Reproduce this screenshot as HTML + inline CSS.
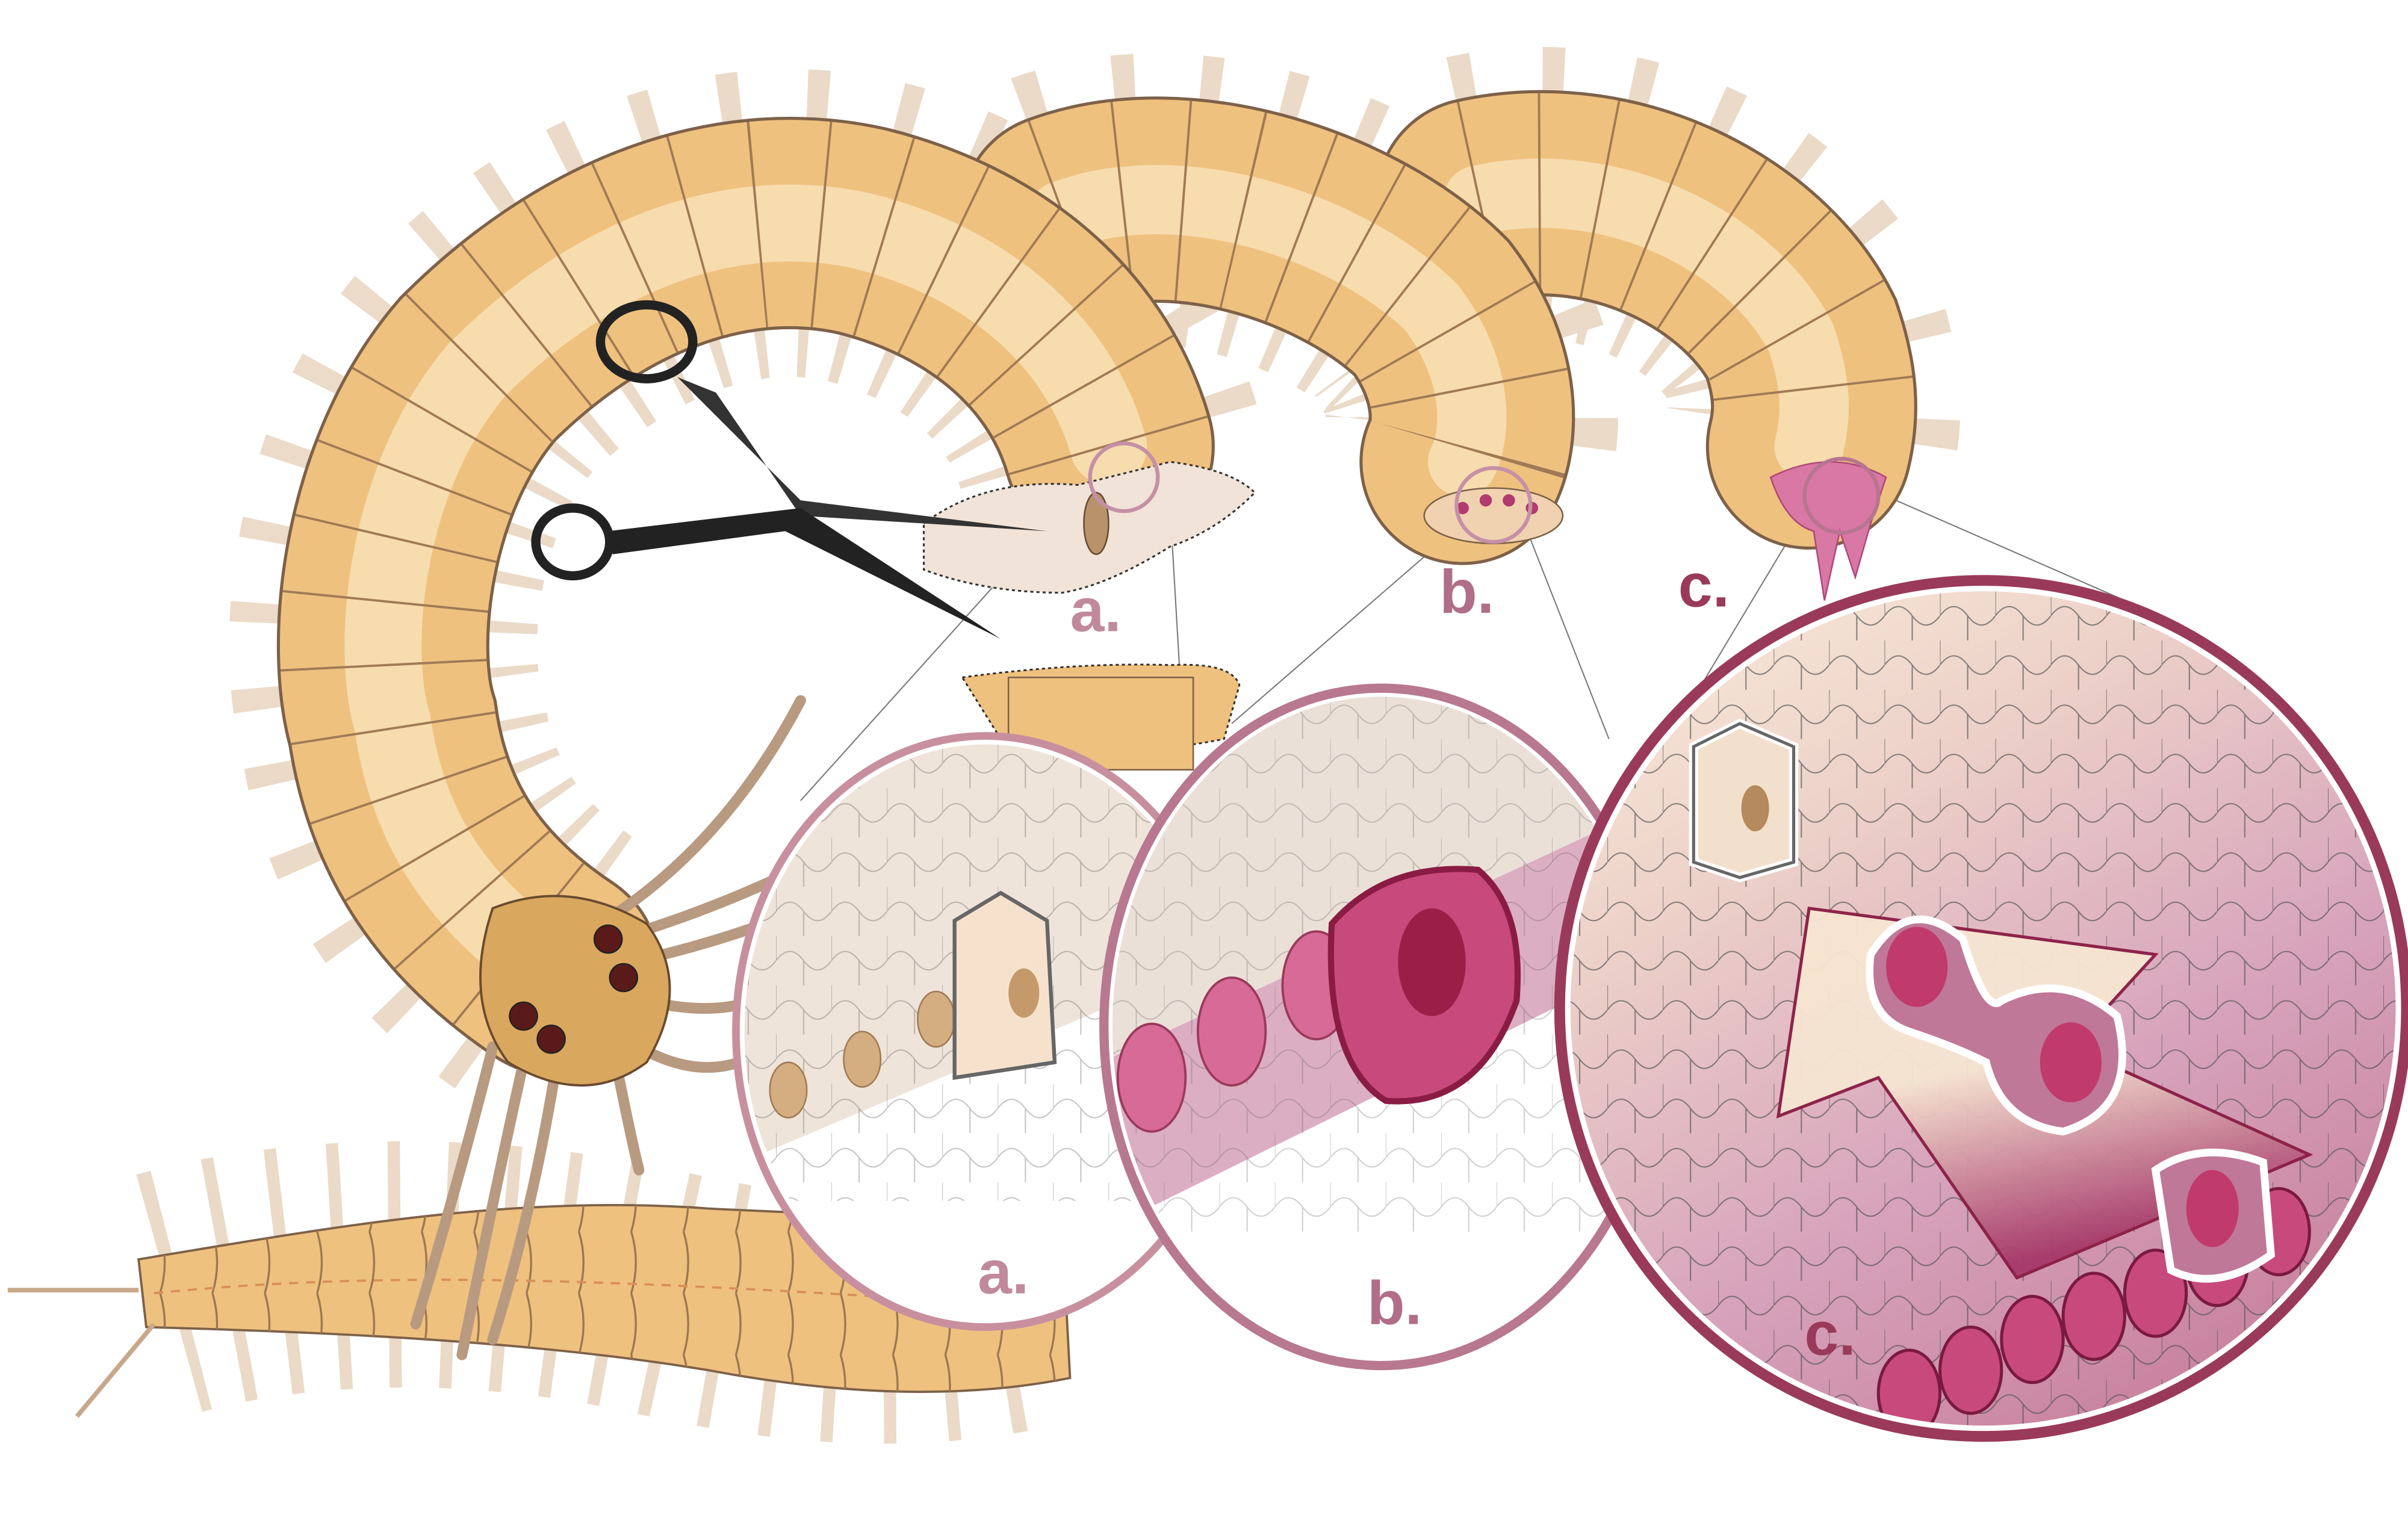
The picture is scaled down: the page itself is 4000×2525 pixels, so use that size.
<!DOCTYPE html>
<html><head><meta charset="utf-8"><style>html,body{margin:0;padding:0;background:#fff}svg{display:block}</style></head>
<body>
<svg width="4000" height="2525" viewBox="0 0 1564 987.3" preserveAspectRatio="none" xmlns="http://www.w3.org/2000/svg" font-family="Liberation Sans, sans-serif">
<defs>
<linearGradient id="gc" x1="0" y1="0" x2="0.6" y2="1"><stop offset="0" stop-color="#fbefdc"/><stop offset="0.35" stop-color="#ecd0c8"/><stop offset="0.7" stop-color="#d7a3bc"/><stop offset="1" stop-color="#c9849f"/></linearGradient>
<linearGradient id="ar" x1="0" y1="0" x2="0.3" y2="1"><stop offset="0.5" stop-color="#f7e6d2"/><stop offset="1" stop-color="#a6396a"/></linearGradient>
<pattern id="mesh" width="36" height="32" patternUnits="userSpaceOnUse"><path d="M0 16 Q9 4 18 16 Q27 28 36 16 M18 16 V32 M0 0 V16" fill="none" stroke="#555" stroke-width="0.8" opacity="0.7"/></pattern>
<pattern id="seg" width="34" height="40" patternUnits="userSpaceOnUse"><path d="M2 0 Q8 20 2 40" fill="none" stroke="#9a7652" stroke-width="1.3"/></pattern>
<clipPath id="ca"><ellipse cx="640" cy="670" rx="158" ry="188"/></clipPath>
<clipPath id="cb"><ellipse cx="897" cy="667" rx="176" ry="216"/></clipPath>
<clipPath id="cc"><ellipse cx="1288" cy="655" rx="268" ry="271"/></clipPath>
</defs>
<rect width="1564" height="987.3" fill="#fff"/>

<g stroke="#777" stroke-width="0.8" fill="none">
<line x1="700" y1="320" x2="520" y2="520"/><line x1="760" y1="330" x2="770" y2="500"/>
<line x1="950" y1="340" x2="800" y2="470"/><line x1="990" y1="340" x2="1045" y2="480"/>
<line x1="1180" y1="320" x2="1090" y2="470"/><line x1="1220" y1="320" x2="1380" y2="390"/>
</g>

<!-- bristles -->
<g fill="none" stroke-linecap="butt" opacity="0.8">
<path d="M720 290 C700 220 640 170 560 150 C470 130 380 170 310 240 C250 310 240 420 255 470 C265 540 300 590 360 630" stroke="#e6d2ba" stroke-width="200" stroke-dasharray="10 32"/>
<path d="M690 140 C770 110 880 150 930 200 C960 240 960 280 950 300" stroke="#e6d2ba" stroke-width="190" stroke-dasharray="10 32"/>
<path d="M960 130 C1050 110 1140 160 1170 220 C1180 250 1180 270 1175 290" stroke="#e6d2ba" stroke-width="190" stroke-dasharray="10 32"/>
<path d="M110 840 C200 815 320 815 430 840 C520 860 600 865 680 845" stroke="#e6d2ba" stroke-width="160" stroke-dasharray="8 28"/>
</g>

<!-- right worms -->
<g fill="none" stroke-linecap="round">
<path d="M960 130 C1050 110 1140 160 1170 220 C1180 250 1180 270 1175 290" stroke="#7d6148" stroke-width="134"/>
<path d="M960 130 C1050 110 1140 160 1170 220 C1180 250 1180 270 1175 290" stroke="#efc17f" stroke-width="130"/>
<path d="M960 130 C1050 110 1140 160 1170 220 C1180 250 1180 270 1175 290" stroke="#f7dcae" stroke-width="45"/>
<path d="M960 130 C1050 110 1140 160 1170 220 C1180 250 1180 270 1175 290" stroke="#a07a55" stroke-width="130" stroke-dasharray="1.5 38" stroke-linecap="butt"/>
<path d="M690 140 C770 110 880 150 930 200 C960 240 960 280 950 300" stroke="#7d6148" stroke-width="134"/>
<path d="M690 140 C770 110 880 150 930 200 C960 240 960 280 950 300" stroke="#efc17f" stroke-width="130"/>
<path d="M690 140 C770 110 880 150 930 200 C960 240 960 280 950 300" stroke="#f7dcae" stroke-width="45"/>
<path d="M690 140 C770 110 880 150 930 200 C960 240 960 280 950 300" stroke="#a07a55" stroke-width="130" stroke-dasharray="1.5 38" stroke-linecap="butt"/>
</g>
<ellipse cx="970" cy="335" rx="45" ry="18" fill="#f0d2b0" stroke="#7d6148"/>
<g fill="#b23a6e"><circle cx="950" cy="330" r="4"/><circle cx="965" cy="325" r="4"/><circle cx="980" cy="325" r="4"/><circle cx="995" cy="330" r="4"/></g>
<circle cx="970" cy="328" r="24" fill="none" stroke="#c590a6" stroke-width="2.5"/>
<path d="M1150 310 Q1190 290 1225 310 L1215 340 L1205 375 L1195 345 L1185 390 L1178 345 Q1160 340 1150 310Z" fill="#d977a5" stroke="#b04878"/>
<circle cx="1196" cy="322" r="24" fill="none" stroke="#b77590" stroke-width="2.5"/>

<!-- main left worm -->
<g fill="none" stroke-linecap="round">
<path d="M720 290 C700 220 640 170 560 150 C470 130 380 170 310 240 C250 310 240 420 255 470 C265 540 300 590 360 630" stroke="#7d6148" stroke-width="138"/>
<path d="M720 290 C700 220 640 170 560 150 C470 130 380 170 310 240 C250 310 240 420 255 470 C265 540 300 590 360 630" stroke="#efc17f" stroke-width="134"/>
<path d="M720 290 C700 220 640 170 560 150 C470 130 380 170 310 240 C250 310 240 420 255 470 C265 540 300 590 360 630" stroke="#f7dcae" stroke-width="50"/>
<path d="M720 290 C700 220 640 170 560 150 C470 130 380 170 310 240 C250 310 240 420 255 470 C265 540 300 590 360 630" stroke="#a07a55" stroke-width="134" stroke-dasharray="1.5 40" stroke-linecap="butt"/>
</g>
<path d="M600 340 Q640 310 700 315 L760 300 Q800 305 815 320 Q790 345 760 355 Q720 380 690 385 Q640 385 600 370Z" fill="#f1e3d8" stroke="#333" stroke-width="1.2" stroke-dasharray="2 2"/>
<ellipse cx="712" cy="340" rx="8" ry="20" fill="#b8926a" stroke="#6a4a30"/>
<circle cx="730" cy="310" r="22" fill="none" stroke="#c590a6" stroke-width="2.5"/>
<path d="M625 440 Q700 430 760 432 Q800 430 805 445 L795 480 Q720 495 650 480Z" fill="#efc17f" stroke="#333" stroke-width="1.2" stroke-dasharray="2 2"/>
<rect x="655" y="440" width="120" height="60" fill="#efc17f" stroke="#7d6148"/>

<!-- bottom tail tapered -->
<path d="M90 818 C200 800 330 775 460 785 C560 790 630 790 690 800 L695 895 C620 910 540 905 460 890 C340 870 200 865 95 862Z" fill="#efc17f" stroke="#7d6148" stroke-width="1.5"/>
<path d="M90 818 C200 800 330 775 460 785 C560 790 630 790 690 800 L695 895 C620 910 540 905 460 890 C340 870 200 865 95 862Z" fill="url(#seg)"/>
<path d="M100 840 C250 825 400 830 690 850" fill="none" stroke="#d8905a" stroke-width="1.5" stroke-dasharray="6 5"/>
<line x1="5" y1="838" x2="90" y2="838" stroke="#c8a88a" stroke-width="3"/>
<line x1="50" y1="920" x2="100" y2="860" stroke="#c8a88a" stroke-width="3"/>

<!-- head + antennae -->
<g stroke="#b89a80" stroke-width="7" stroke-linecap="round" fill="none">
<path d="M390 600 Q470 550 520 455"/><path d="M400 610 Q500 580 580 530"/><path d="M410 625 Q520 600 590 555"/>
<path d="M420 650 Q460 660 490 650"/><path d="M415 680 Q450 700 480 690"/>
<path d="M320 680 Q300 760 270 860"/><path d="M340 690 Q320 780 300 880"/><path d="M360 700 Q345 790 320 870"/><path d="M400 690 Q410 740 415 760"/>
</g>
<path d="M320 590 Q370 570 420 600 Q450 640 420 690 Q380 720 330 690 Q300 650 320 590Z" fill="#d9a85e" stroke="#6a4a30" stroke-width="1.5"/>
<g fill="#5a1a1a" stroke="#222"><circle cx="395" cy="610" r="9"/><circle cx="405" cy="635" r="9"/><circle cx="340" cy="660" r="9"/><circle cx="358" cy="675" r="9"/></g>

<!-- scissors -->
<g fill="none" stroke="#222" stroke-width="6">
<ellipse cx="420" cy="222" rx="30" ry="24"/>
<ellipse cx="372" cy="352" rx="24" ry="22"/>
</g>
<path d="M440 245 L520 325 L680 345 L520 335 L465 255Z" fill="#333"/>
<path d="M395 345 L520 330 L650 415 L510 345 L398 360Z" fill="#222"/>

<!-- circle a -->
<ellipse cx="640" cy="670" rx="160" ry="190" fill="#fff"/>
<g clip-path="url(#ca)">
<path d="M470 480 L800 480 L800 620 L470 760Z" fill="#efe4da"/>
<rect x="470" y="480" width="330" height="300" fill="url(#mesh)" opacity="0.5"/>
<g fill="#d4ae80" stroke="#a07a55"><ellipse cx="512" cy="708" rx="12" ry="18"/><ellipse cx="560" cy="688" rx="12" ry="18"/><ellipse cx="608" cy="662" rx="12" ry="18"/></g>
<path d="M620 598 L650 580 L680 598 L685 690 L620 700Z" fill="#f6e2cc" stroke="#666" stroke-width="2.5"/>
<ellipse cx="665" cy="645" rx="10" ry="16" fill="#c49a6a"/>
</g>
<ellipse cx="640" cy="670" rx="158" ry="188" fill="none" stroke="#fff" stroke-width="3"/>
<ellipse cx="640" cy="670" rx="162" ry="192" fill="none" stroke="#c8909f" stroke-width="5"/>

<!-- circle b -->
<ellipse cx="897" cy="667" rx="178" ry="218" fill="#fff"/>
<g clip-path="url(#cb)">
<path d="M715 450 L1080 450 L1080 520 L715 690Z" fill="#ebe0d8"/>
<path d="M715 690 L1080 520 L1080 620 L715 800Z" fill="#dcaec2"/>
<rect x="715" y="450" width="365" height="350" fill="url(#mesh)" opacity="0.4"/>
<g fill="#d86a98" stroke="#9a3a5a" stroke-width="1.5">
<ellipse cx="748" cy="700" rx="22" ry="35"/><ellipse cx="800" cy="670" rx="22" ry="35"/><ellipse cx="855" cy="640" rx="22" ry="35"/>
</g>
<path d="M865 600 Q900 560 960 565 Q990 590 985 650 Q960 720 900 715 Q860 690 865 600Z" fill="#c84a7c" stroke="#8a1c44" stroke-width="4"/>
<ellipse cx="930" cy="625" rx="22" ry="35" fill="#9a1e48"/>
</g>
<ellipse cx="897" cy="667" rx="176" ry="216" fill="none" stroke="#fff" stroke-width="3"/>
<ellipse cx="897" cy="667" rx="180" ry="220" fill="none" stroke="#b87890" stroke-width="6"/>

<!-- circle c -->
<ellipse cx="1288" cy="655" rx="272" ry="275" fill="#fff"/>
<g clip-path="url(#cc)">
<rect x="1010" y="380" width="560" height="560" fill="url(#gc)"/>
<rect x="1010" y="380" width="560" height="560" fill="url(#mesh)"/>
<path d="M1175 590 L1400 620 L1345 680 L1500 750 L1310 830 L1220 700 L1155 725Z" fill="url(#ar)" stroke="#8a1c44" stroke-width="2" opacity="0.95"/>
<g fill="#c84a7c" stroke="#7a1a40" stroke-width="2">
<ellipse cx="1240" cy="905" rx="20" ry="28"/><ellipse cx="1280" cy="890" rx="20" ry="28"/><ellipse cx="1320" cy="870" rx="20" ry="28"/><ellipse cx="1360" cy="855" rx="20" ry="28"/><ellipse cx="1400" cy="840" rx="20" ry="28"/><ellipse cx="1440" cy="820" rx="20" ry="28"/><ellipse cx="1480" cy="800" rx="20" ry="28"/>
</g>
<path d="M1100 485 L1130 470 L1165 485 L1165 560 L1130 570 L1100 560Z" fill="#f3e0cc" stroke="#fff" stroke-width="6"/>
<path d="M1100 485 L1130 470 L1165 485 L1165 560 L1130 570 L1100 560Z" fill="none" stroke="#666" stroke-width="2"/>
<ellipse cx="1140" cy="525" rx="9" ry="15" fill="#b48a5e"/>
<path d="M1215 620 Q1240 580 1275 610 Q1290 660 1300 650 Q1340 630 1375 660 Q1390 720 1340 735 Q1300 730 1290 690 Q1270 680 1240 670 Q1210 660 1215 620Z" fill="#c07898" stroke="#fff" stroke-width="5"/>
<ellipse cx="1245" cy="628" rx="20" ry="26" fill="#c03a6c"/>
<ellipse cx="1345" cy="690" rx="20" ry="26" fill="#c03a6c"/>
<path d="M1400 760 Q1430 740 1470 755 L1475 815 Q1440 840 1410 825Z" fill="#c07898" stroke="#fff" stroke-width="5"/>
<ellipse cx="1437" cy="785" rx="17" ry="25" fill="#c03a6c"/>
</g>
<ellipse cx="1288" cy="655" rx="270" ry="273" fill="none" stroke="#fff" stroke-width="4"/>
<ellipse cx="1288" cy="655" rx="275" ry="278" fill="none" stroke="#9a3a5a" stroke-width="7"/>

<g font-weight="bold" font-size="40">
<text x="695" y="410" fill="#c08a9c">a.</text>
<text x="935" y="398" fill="#b06e88">b.</text>
<text x="1090" y="394" fill="#9a3a5a">c.</text>
<text x="635" y="840" fill="#c08a9c">a.</text>
<text x="888" y="860" fill="#b06e88">b.</text>
<text x="1172" y="880" fill="#9a3a5a">c.</text>
</g>
</svg>
</body></html>
